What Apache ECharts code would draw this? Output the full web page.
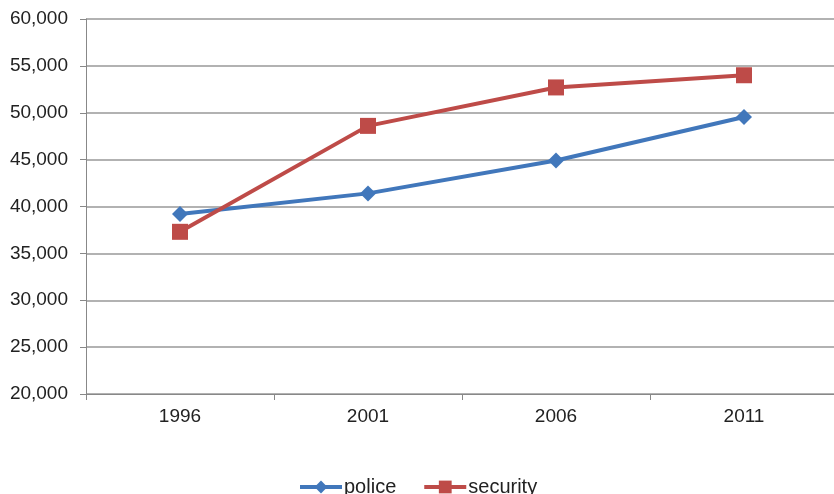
<!DOCTYPE html>
<html>
<head>
<meta charset="utf-8">
<script src="https://cdn.jsdelivr.net/npm/echarts@6/dist/echarts.min.js"></script>
<style>
    html, body { margin: 0; padding: 0; background: #fff; }
    #chart { width: 834px; height: 494px; }
</style>
</head>
<body>
<div id="chart"></div>
<script>
    // data
    var years = ['1996', '2001', '2006', '2011'];
    var police = [39200, 41400, 44900, 49550];
    var security = [37300, 48600, 52700, 54000];

    var myChart = echarts.init(document.getElementById('chart'));
    var font = 'Liberation Sans, Arial, sans-serif';

    var options = {
        animation: false,
        textStyle: { fontFamily: font },
        // plot runs a little past the right edge of the picture
        grid: {
            left: 86, top: 19, width: 752, height: 375,
            containLabel: false,
            outerBoundsMode: 'none'
        },
        legend: {
            top: 477,
            left: 298,
            padding: 0,
            itemWidth: 42,
            itemHeight: 16,
            itemGap: 26,
            lineStyle: { width: 4 },
            textStyle: { fontSize: 20, color: '#222', fontFamily: font, padding: [0, 0, 0, -3] },
            data: ['police', 'security']
        },
        xAxis: {
            type: 'category',
            data: years,
            boundaryGap: true,
            axisLine: { lineStyle: { color: '#888', width: 1 } },
            axisTick: { show: true, length: 6, lineStyle: { color: '#888' } },
            axisLabel: { fontSize: 19, color: '#222', margin: 13 }
        },
        yAxis: {
            type: 'value',
            min: 20000,
            max: 60000,
            interval: 5000,
            axisLine: { show: true, lineStyle: { color: '#888' } },
            axisTick: { show: true, length: 6, lineStyle: { color: '#888' } },
            splitLine: { lineStyle: { color: '#999', width: 1.5 } },
            axisLabel: {
                fontSize: 19,
                color: '#222',
                margin: 18,
                formatter: function (v) {
                    return v.toLocaleString('en-US');
                }
            }
        },
        series: [{
            name: 'police',
            type: 'line',
            data: police,
            symbol: 'diamond',
            symbolSize: 16,
            color: '#4177BB',
            lineStyle: { width: 4, color: '#4177BB' },
            itemStyle: { color: '#4177BB' }
        }, {
            name: 'security',
            type: 'line',
            data: security,
            symbol: 'rect',
            symbolSize: 16,
            color: '#BE4B48',
            lineStyle: { width: 4, color: '#BE4B48' },
            itemStyle: { color: '#BE4B48' }
        }]
    };
    myChart.setOption(options);
</script>
</body>
</html>
